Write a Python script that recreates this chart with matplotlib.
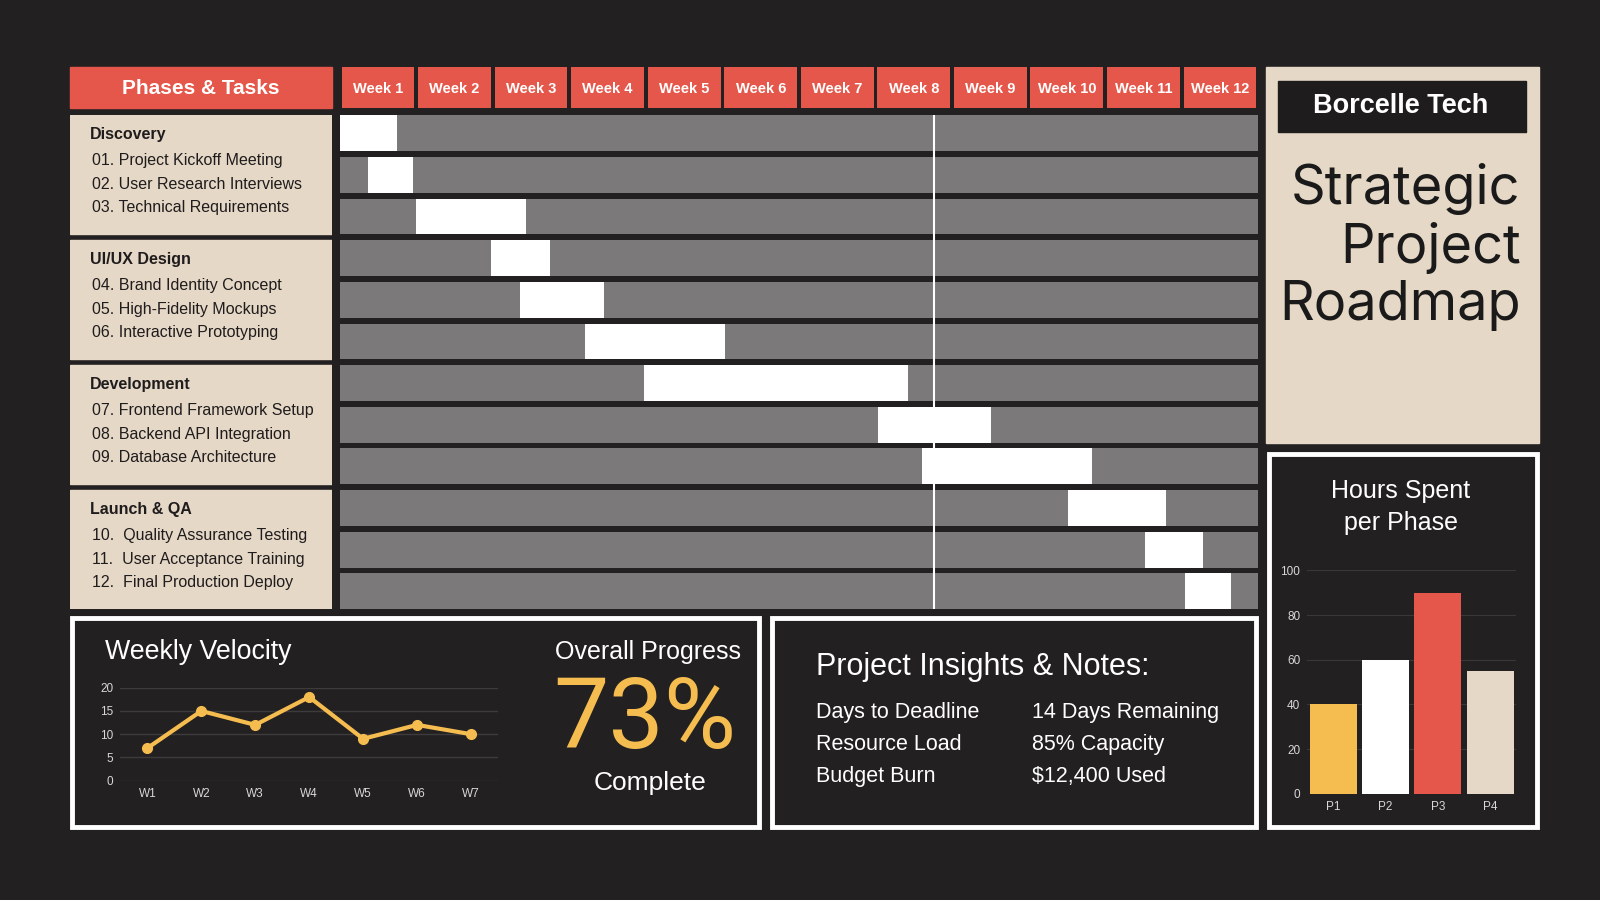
import matplotlib.pyplot as plt
from matplotlib.patches import Rectangle

# --- dados ---
weeks = ["Week %d" % i for i in range(1, 13)]
phases = ["Discovery", "UI/UX Design", "Development", "Launch & QA"]
tasks = ["01. Project Kickoff Meeting", "02. User Research Interviews", "03. Technical Requirements",
         "04. Brand Identity Concept", "05. High-Fidelity Mockups", "06. Interactive Prototyping",
         "07. Frontend Framework Setup", "08. Backend API Integration", "09. Database Architecture",
         "10.  Quality Assurance Testing", "11.  User Acceptance Training", "12.  Final Production Deploy"]
task_start = [0.0, 0.37, 1.0, 1.97, 2.36, 3.21, 3.97, 7.03, 7.61, 9.52, 10.52, 11.04]
task_end = [0.75, 0.96, 2.43, 2.75, 3.45, 5.03, 7.43, 8.51, 9.83, 10.8, 11.28, 11.65]
today_week = 7.77

vel_labels = ["W1", "W2", "W3", "W4", "W5", "W6", "W7"]
vel_values = [7, 15, 12, 18, 9, 12, 10]

hour_labels = ["P1", "P2", "P3", "P4"]
hour_values = [40, 60, 90, 55]

insight_keys = ["Days to Deadline", "Resource Load", "Budget Burn"]
insight_vals = ["14 Days Remaining", "85% Capacity", "$12,400 Used"]

BG = "#232021"
RED = "#e5574a"
BEIGE = "#e6d8c6"
GRAY = "#7b797a"
YELLOW = "#f5bd4f"
DARK = "#1f1c1d"

plt.rcParams['font.family'] = ['Liberation Sans', 'DejaVu Sans']

W, H = 1568, 882
fig = plt.figure(figsize=(16, 9), dpi=100, facecolor=BG)


def place(x0, y0, x1, y1):
    ax = fig.add_axes([x0 / W, 1 - y1 / H, (x1 - x0) / W, (y1 - y0) / H])
    ax.set_facecolor("none")
    return ax


# --- fundo / paineis ---
bg = fig.add_axes([0, 0, 1, 1])
bg.set_xlim(0, W)
bg.set_ylim(H, 0)
bg.axis("off")
bg.set_facecolor(BG)

bg.add_patch(Rectangle((69, 66), 256, 40, color=RED))
bg.text(197, 87, "Phases & Tasks", color="white", fontsize=15, fontweight="bold", ha="center", va="center")

for x0, y0, x1, y1 in [(71, 606, 744, 810), (757, 606, 1231, 810), (1244, 445, 1506, 810)]:
    bg.add_patch(Rectangle((x0, y0), x1 - x0, y1 - y0, facecolor=BG, edgecolor="white", lw=3.5))

bg.add_patch(Rectangle((1241, 66), 267, 368, color=BEIGE))
bg.add_patch(Rectangle((1252, 79), 243, 50, color=DARK))
bg.text(1373, 104, "Borcelle Tech", color="white", fontsize=19.5, fontweight="bold", ha="center", va="center")
bg.text(1490, 242, "Strategic\nProject\nRoadmap", color="#1a1a1a", fontsize=39, ha="right", va="center",
        linespacing=1.17, family=["Inter", "DejaVu Sans"])

bg.text(103, 639, "Weekly Velocity", color="white", fontsize=19.3, ha="left", va="center")
bg.text(635, 639, "Overall Progress", color="white", fontsize=18, ha="center", va="center")
bg.text(632, 707, "73%", color=YELLOW, fontsize=71, ha="center", va="center",
        family=["Roboto", "DejaVu Sans"], fontweight="normal")
bg.text(637, 767, "Complete", color="white", fontsize=19, ha="center", va="center")

bg.text(800, 654, "Project Insights & Notes:", color="white", fontsize=22, ha="left", va="center")
for i, (k, v) in enumerate(zip(insight_keys, insight_vals)):
    bg.text(800, 698 + 31.5 * i, k, color="white", fontsize=15.5, ha="left", va="center")
    bg.text(1011, 698 + 31.5 * i, v, color="white", fontsize=15.5, ha="left", va="center")

bg.text(1373, 497, "Hours Spent\nper Phase", color="white", fontsize=18, ha="center", va="center",
        linespacing=1.45)

# --- cabecalho das semanas ---
axw = place(333, 66, 1233, 106)
axw.bar([i + 0.5 for i in range(len(weeks))], 1, width=0.95, color=RED)
for i, w in enumerate(weeks):
    axw.text(i + 0.5, 0.47, w, color="white", fontsize=10.5, fontweight="bold", ha="center", va="center")
axw.set_xlim(0, 12)
axw.set_ylim(0, 1)
axw.axis("off")

# --- gantt ---
n = len(tasks)
axg = place(333, 113, 1233, 597)
rows = list(range(n))
axg.barh(rows, 12, left=0, height=0.86, color=GRAY)
axg.barh(rows, [e - s for s, e in zip(task_start, task_end)], left=task_start, height=0.86, color="white")
axg.axvline(today_week, color="white", lw=1.5)
axg.set_xlim(0, 12)
axg.set_ylim(n - 0.57, -0.43)
axg.axis("off")

# --- fases (caixas bege) ---
axp = place(69, 113, 325, 597)
axp.set_xlim(0, 1)
axp.set_ylim(n - 0.57, -0.43)
axp.axis("off")
for k, ph in enumerate(phases):
    axp.add_patch(Rectangle((0, 3 * k - 0.43), 1, 2.86, color=BEIGE))
    axp.text(0.074, 3 * k + 0.04, ph, color=DARK, fontsize=11.5, fontweight="bold", va="center")
    for j in range(3):
        axp.text(0.082, 3 * k + 0.66 + 0.565 * j, tasks[3 * k + j], color=DARK, fontsize=11.5, va="center")

# --- velocidade semanal ---
axv = place(118, 674, 488, 765)
axv.plot(range(len(vel_values)), vel_values, color=YELLOW, lw=3, marker="o", ms=7)
axv.set_xlim(-0.5, len(vel_values) - 0.5)
axv.set_ylim(0, 20)
axv.set_yticks([0, 5, 10, 15, 20])
axv.set_xticks(range(len(vel_labels)))
axv.set_xticklabels(vel_labels)
axv.grid(axis="y", color="#3e3b3c", lw=1)
axv.set_axisbelow(True)
for s in axv.spines.values():
    s.set_visible(False)
axv.tick_params(colors="#d8d8d8", labelsize=8.5, length=0, pad=5)

# --- horas por fase ---
axh = place(1281, 559, 1486, 778)
axh.bar(range(len(hour_values)), hour_values, width=0.9, color=[YELLOW, "white", RED, BEIGE])
axh.set_xlim(-0.5, len(hour_values) - 0.5)
axh.set_ylim(0, 100)
axh.set_yticks(range(0, 101, 20))
axh.set_xticks(range(len(hour_labels)))
axh.set_xticklabels(hour_labels)
axh.grid(axis="y", color="#3a3738", lw=0.8)
axh.set_axisbelow(True)
for s in axh.spines.values():
    s.set_visible(False)
axh.tick_params(colors="#d8d8d8", labelsize=8.5, length=0, pad=5)

fig.savefig("out.png", dpi=100, facecolor=BG)
